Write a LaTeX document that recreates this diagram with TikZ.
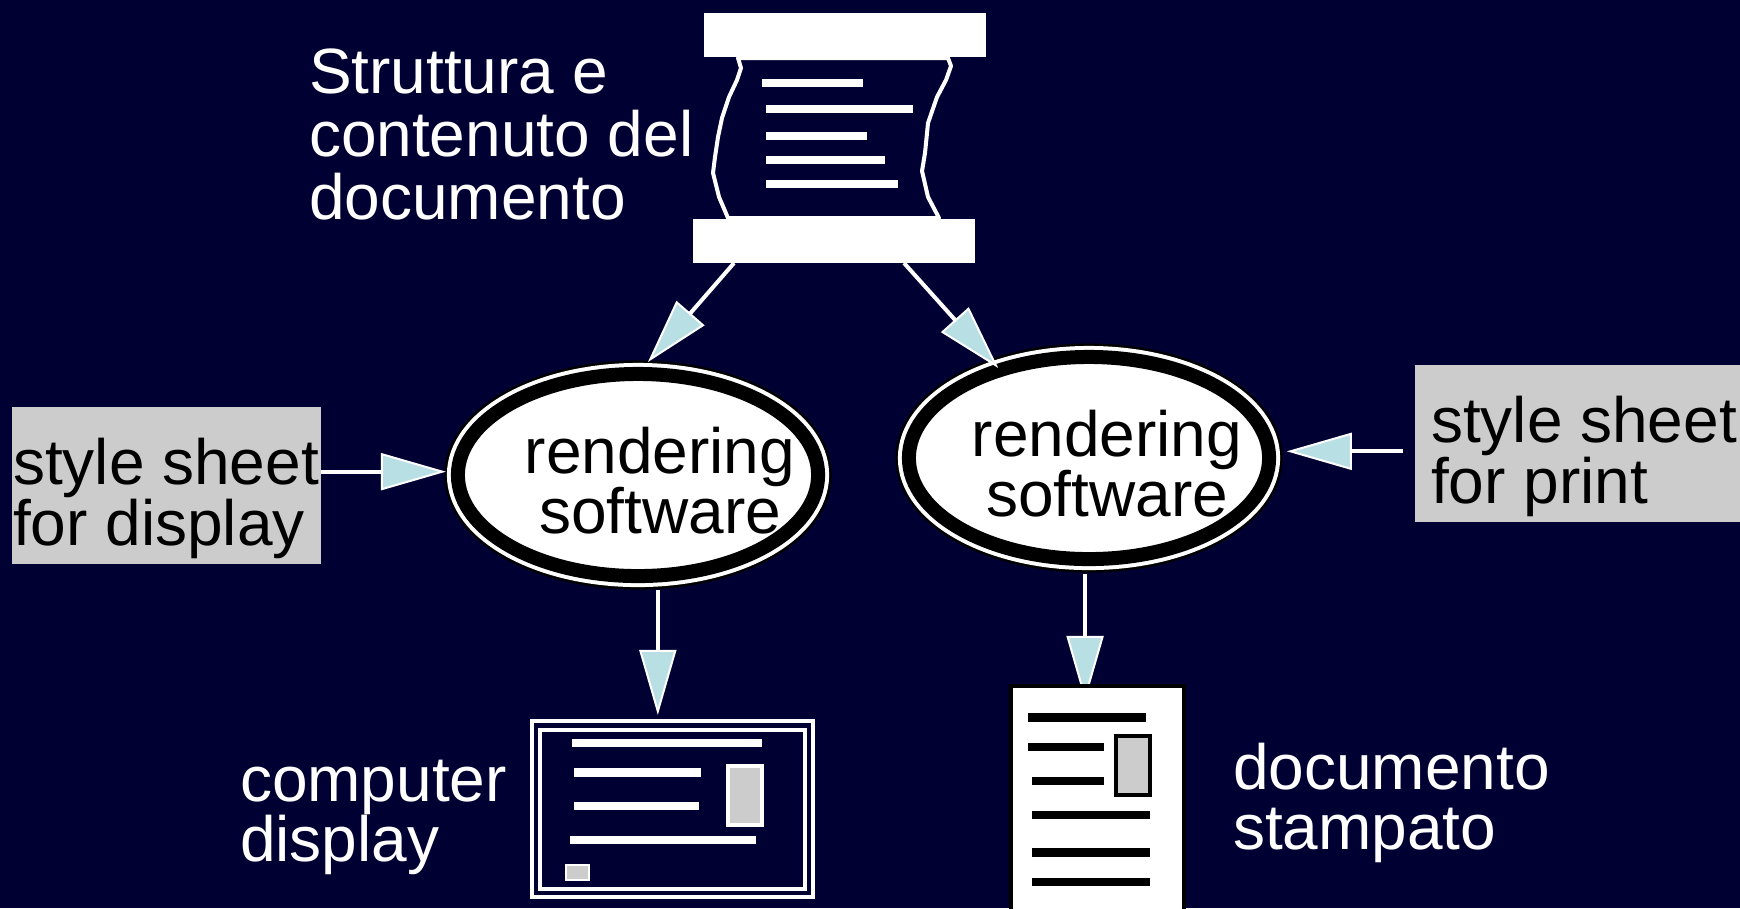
\documentclass[tikz,border=0pt]{standalone}
\usepackage{fontspec}
\setmainfont{Liberation Sans}
\usetikzlibrary{arrows.meta,shapes.geometric,calc}
\definecolor{bgnavy}{HTML}{000033}
\definecolor{tipblue}{HTML}{B8DFE4}
\definecolor{sheetgray}{HTML}{CCCCCC}
\tikzset{
	label text/.style={text=white,font=\fontsize{18.2}{17.07}\selectfont,align=left,inner sep=0pt,outer sep=0pt},
	sheet text/.style={label text,text=black},
	rend text/.style={label text,text=black,align=center},
	rend oval/.style={ellipse,fill=white,draw=black,line width=0.14cm,inner sep=0pt,outer sep=0.12cm,minimum width=3.6cm,minimum height=2.02cm,
		preaction={draw=black,line width=0.27cm},preaction={draw=white,line width=0.22cm}},
	bar/.style={fill=white,inner sep=0pt,outer sep=0pt,minimum width=2.82cm,minimum height=0.44cm},
	sheet/.style={fill=sheetgray,inner sep=0pt,outer sep=0pt},
	flow/.style={draw=white,line width=0.04cm,-{Triangle[length=0.65cm,width=0.37cm,line width=0.02cm,fill=tipblue]}}
}
\begin{document}
\begin{tikzpicture}[x=0.01cm,y=-0.01cm]
	\fill[bgnavy] (0,0) rectangle (1740,908);
	\useasboundingbox (0,0) rectangle (1740,908);
	\clip (0,0) rectangle (1740,908);
	% source document
	\node[bar] (bartop) at (845,35) {};
	\node[bar] (barbot) at (834,241) {};
	\draw[white,line width=0.04cm,line join=round] (738,58) -- (741,68) -- (737,80) -- (729,97) -- (722,118) -- (718,137) -- (715,157) -- (713,173) -- (719,197) -- (728,218)
		-- (939,218) -- (928,197) -- (922,171) -- (925,153) -- (928,123) -- (937,97) -- (946,80) -- (951,66) -- (948,58) -- cycle;
	\foreach \xa/\xb/\yy in {762/863/83,766/913/109,766/867/136,766/885/160,766/898/184}
		\fill[white] (\xa,\yy-4.3) rectangle (\xb,\yy+4.3);
	\node[label text,anchor=base west] (src1) at (309,93) {Struttura e};
	\node[label text,anchor=base west] (src2) at (309,156) {contenuto del};
	\node[label text,anchor=base west] (src3) at (309,219) {documento};
	% rendering software
	\node[rend oval] (rendA) at (638,475) {};
	\node[rend oval] (rendB) at (1089,458) {};
	\node[rend text] (rendAt) at (660,481) {rendering\\software};
	\node[rend text] (rendBt) at (1107,464) {rendering\\software};
	% style sheets
	\node[sheet,minimum width=3.09cm,minimum height=1.57cm] (sheetA) at (166.5,485.5) {};
	\node[sheet,minimum width=3.25cm,minimum height=1.57cm] (sheetB) at (1577.5,443.5) {};
	\node[sheet text,anchor=base west] (sheetAa) at (13,484) {style sheet};
	\node[sheet text,anchor=base west] (sheetAb) at (13,545) {for display};
	\node[sheet text,anchor=base west] (sheetBa) at (1431,442) {style sheet};
	\node[sheet text,anchor=base west] (sheetBb) at (1431,503) {for print};
	% computer display
	\node[draw=white,line width=0.04cm,inner sep=0pt,outer sep=0pt,minimum width=2.81cm,minimum height=1.76cm] (dispframe) at (672.5,809) {};
	\draw[white,line width=0.04cm] (540,730) rectangle (805,889);
	\foreach \xa/\xb/\yy in {572/762/743,574/701/772.5,574/699/806,570/756/840}
		\fill[white] (\xa,\yy-4.2) rectangle (\xb,\yy+4.2);
	\draw[white,fill=sheetgray,line width=0.04cm] (728,766) rectangle (762,825);
	\draw[white,fill=sheetgray,line width=0.02cm] (566,865) rectangle (589,880);
	\node[label text,anchor=base west] (disp1) at (240,801) {computer};
	\node[label text,anchor=base west] (disp2) at (240,861) {display};
	% connectors
	\coordinate (printTop) at (1085,701);
	\draw[flow] ($(barbot.south)+(-100,0)$) -- (rendA.85);
	\draw[flow,shorten >=-0.1cm] ($(barbot.south)+(70,0)$) -- (rendB.135);
	\draw[flow] (sheetA.east |- rendA.179) -- (rendA.179);
	\draw[flow,shorten >=0.06cm,shorten <=0.12cm] (sheetB.west |- rendB.2) -- (rendB.2);
	\draw[flow,xshift=0.015cm,shorten >=0.06cm,shorten <=0.03cm] (rendA.280) -- (rendA.280 |- dispframe.north);
	\draw[flow,shorten <=0.03cm] (rendB.268) -- (rendB.268 |- printTop);
	% printed document
	\draw[black,fill=white,line width=0.04cm] (1011,686) rectangle (1184,930);
	\foreach \xa/\xb/\yy in {1028/1146/717.5,1028/1104/747,1032/1104/781,1032/1150/815,1032/1150/852.5,1032/1150/882}
		\fill[black] (\xa,\yy-4.2) rectangle (\xb,\yy+4.2);
	\draw[black,fill=sheetgray,line width=0.04cm] (1116,736) rectangle (1150,795);
	\node[label text,anchor=base west] (print1) at (1233,789) {documento};
	\node[label text,anchor=base west] (print2) at (1233,849) {stampato};
\end{tikzpicture}
\end{document}
